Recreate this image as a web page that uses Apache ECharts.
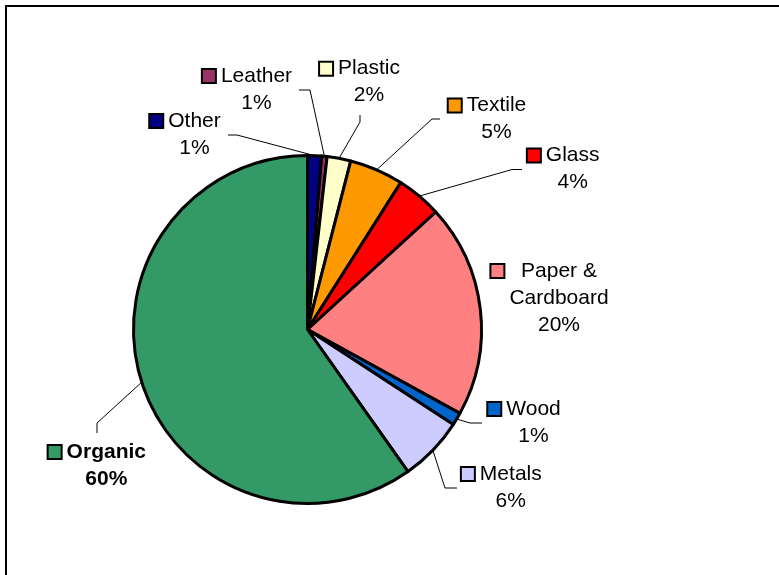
<!DOCTYPE html>
<html>
<head>
<meta charset="utf-8">
<script src="https://cdn.jsdelivr.net/npm/echarts@6/dist/echarts.min.js"></script>
<style>
html,body{margin:0;padding:0;background:#fff;}
#chart{width:779px;height:575px;}
</style>
</head>
<body>
<div id="chart"></div>
<script>
// ---- data ----
const categories = ['Other', 'Leather', 'Plastic', 'Textile', 'Glass', 'Paper &\nCardboard', 'Wood', 'Metals', 'Organic'];
const values = [1.3, 0.5, 2.2, 5.0, 4.2, 19.8, 1.2, 6.0, 59.8];

// ---- styles ----
const colors = ['#000080', '#993366', '#FFFFCC', '#FF9900', '#FF0000', '#FF8080', '#0066CC', '#CCCCFF', '#339966'];
const boldLabel = [false, false, false, false, false, false, false, false, true];
// label anchor: [text centre x, first-line middle y]
const labelAnchor = [
  [194.5, 121], [256.5, 76], [369, 68.7], [496.5, 105.5], [572.7, 155.5],
  [559, 271], [533.5, 409], [510.8, 474], [106.3, 452]
];
// leader line: [bend point, end point] (null = no line)
const leaderPts = [
  [[237, 135], [228, 135]],
  [[310, 90], [299, 90]],
  [[360, 122], [360, 115]],
  [[432, 119], [440, 119]],
  [[512, 169.5], [522, 169.5]],
  null,
  [[470, 423], [482, 423]],
  [[445, 488], [457, 488]],
  [[97, 423], [97, 433]]
];

const FONT_SIZE = 21, LINE_H = 27, FONT_FAMILY = '"Liberation Sans", Arial, sans-serif';
const MARK = 12, BASE_GAP = 6;

const ctx = document.createElement('canvas').getContext('2d');
function textW(s, bold) {
  ctx.font = (bold ? 'bold ' : '') + FONT_SIZE + 'px ' + FONT_FAMILY;
  return ctx.measureText(s).width;
}

const rich = {
  t: {fontSize: FONT_SIZE, fontFamily: FONT_FAMILY, color: '#000', lineHeight: LINE_H},
  tb: {fontSize: FONT_SIZE, fontFamily: FONT_FAMILY, color: '#000', lineHeight: LINE_H, fontWeight: 'bold'}
};
categories.forEach((name, i) => {
  const lines = name.split('\n');
  const bold = boldLabel[i];
  const pct = Math.round(values[i] / values.reduce((a, b) => a + b, 0) * 100) + '%';
  const all = lines.concat([pct]);
  const maxW = Math.max(...all.map(l => textW(l, bold)));
  const firstW = textW(lines[0], bold);
  const gap = BASE_GAP + (maxW - firstW) / 2;
  rich['m' + i] = {width: MARK, height: MARK, backgroundColor: colors[i], borderColor: '#000', borderWidth: 2, lineHeight: LINE_H};
  rich['g' + i] = {width: gap, lineHeight: LINE_H};
  rich['s' + i] = {width: MARK + gap, lineHeight: LINE_H};
});

const data = categories.map((name, i) => ({
  name: name,
  value: values[i],
  itemStyle: {color: colors[i]},
  labelLine: {show: leaderPts[i] !== null}
}));

const chart = echarts.init(document.getElementById('chart'), null, {renderer: 'canvas'});
chart.setOption({
  backgroundColor: '#fff',
  animation: false,
  graphic: [{
    type: 'rect', silent: true, z: 100,
    shape: {x: 6, y: 6, width: 800, height: 620},
    style: {fill: 'none', stroke: '#000', lineWidth: 2}
  }],
  series: [{
    type: 'pie',
    center: [307.5, 329.5],
    radius: 174,
    startAngle: 90,
    clockwise: true,
    avoidLabelOverlap: false,
    emphasis: {disabled: true},
    itemStyle: {borderColor: '#000', borderWidth: 3},
    label: {
      show: true,
      position: 'outside',
      align: 'center',
      formatter: function (p) {
        const i = p.dataIndex;
        const st = boldLabel[i] ? 'tb' : 't';
        const lines = p.name.split('\n');
        const pct = Math.round(p.percent) + '%';
        const first = '{m' + i + '|}{g' + i + '| }{' + st + '|' + lines[0] + '}{s' + i + '| }';
        const rest = lines.slice(1).concat([pct]).map(l => '{' + st + '|' + l + '}');
        return [first].concat(rest).join('\n');
      },
      rich: rich
    },
    labelLine: {show: true, lineStyle: {color: '#000', width: 1}, length: 10, length2: 10},
    labelLayout: function (params) {
      const i = params.dataIndex;
      const a = labelAnchor[i];
      const out = {x: a[0], y: a[1] - LINE_H / 2, align: 'center', verticalAlign: 'top'};
      const lp = leaderPts[i];
      if (lp && params.labelLinePoints && params.labelLinePoints.length) {
        out.labelLinePoints = [params.labelLinePoints[0], lp[0], lp[1]];
      }
      return out;
    },
    data: data
  }]
});
</script>
</body>
</html>
